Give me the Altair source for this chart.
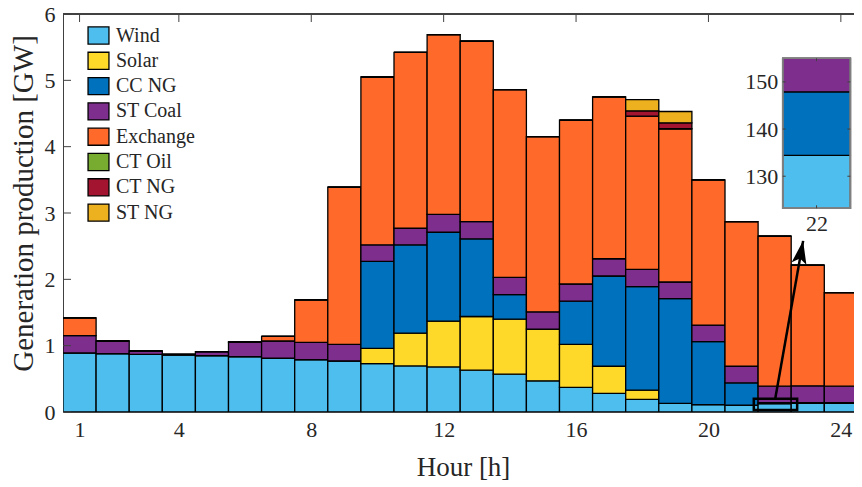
import altair as alt
import pandas as pd

# ---------------- data ----------------
hours = list(range(1, 25))
series = ["Wind", "Solar", "CC NG", "ST Coal", "Exchange", "CT Oil", "CT NG", "ST NG"]
colors = ["#4DBEEE", "#FFD92A", "#0072BD", "#7E2F8E", "#FF6A2A", "#77AC30", "#A2142F", "#EDB120"]

wind     = [0.89, 0.88, 0.87, 0.86, 0.85, 0.835, 0.81, 0.79, 0.77, 0.73, 0.695, 0.68,
            0.63, 0.57, 0.47, 0.37, 0.28, 0.19, 0.13, 0.11, 0.105, 0.125, 0.13, 0.13]
solar    = [0, 0, 0, 0, 0, 0, 0, 0, 0, 0.23, 0.495, 0.69,
            0.81, 0.83, 0.78, 0.65, 0.41, 0.14, 0, 0, 0, 0, 0, 0]
cc_ng    = [0, 0, 0, 0, 0, 0, 0, 0, 0, 1.31, 1.33, 1.34,
            1.17, 0.37, 0, 0.65, 1.36, 1.56, 1.58, 0.95, 0.335, 0.015, 0.01, 0.01]
st_coal  = [0.26, 0.19, 0.05, 0.01, 0.06, 0.215, 0.26, 0.26, 0.25, 0.25, 0.25, 0.27,
            0.26, 0.26, 0.26, 0.26, 0.26, 0.26, 0.25, 0.25, 0.25, 0.25, 0.255, 0.25]
exchange = [0.27, 0, 0, 0, 0, 0.01, 0.07, 0.64, 2.37, 2.53, 2.65, 2.71,
            2.72, 2.83, 2.64, 2.47, 2.44, 2.31, 2.31, 2.19, 2.18, 2.26, 1.82, 1.41]
ct_oil   = [0] * 24
ct_ng    = [0, 0, 0, 0, 0, 0, 0, 0, 0, 0, 0, 0,
            0, 0, 0, 0, 0, 0.08, 0.09, 0, 0, 0, 0, 0]
st_ng    = [0, 0, 0, 0, 0, 0, 0, 0, 0, 0, 0, 0,
            0, 0, 0, 0, 0, 0.17, 0.17, 0, 0, 0, 0, 0]

x_ticks = [1, 4, 8, 12, 16, 20, 24]
y_ticks = [0, 1, 2, 3, 4, 5, 6]

# inset (hour 22 zoom)
inset_series = ["Wind", "CC NG", "ST Coal"]
inset_values = [134.4, 13.5, 7.1]
inset_ticks = [130, 140, 150]
inset_domain = [123.2, 155]

# annotation box and arrow (data coordinates)
box_x = [21.37, 22.68]
box_y = [0.03, 0.20]
arrow_from = [22.02, 0.207]
arrow_to = [22.86, 2.58]

# ---------------- tables ----------------
cols = [wind, solar, cc_ng, st_coal, exchange, ct_oil, ct_ng, st_ng]
rows = []
for i, h in enumerate(hours):
    base = 0.0
    for s, col in zip(series, cols):
        v = col[i]
        rows.append({"hour": h, "series": s, "x0": h - 0.5, "x1": h + 0.5,
                     "y0": base, "y1": base + v})
        base += v
df = pd.DataFrame(rows)

inset_rows = []
base = 0.0
for s, v in zip(inset_series, inset_values):
    inset_rows.append({"series": s, "hex": colors[series.index(s)], "x0": 21.5, "x1": 22.5,
                       "y0": base, "y1": base + v})
    base += v
inset_df = pd.DataFrame(inset_rows)

W, H = 791, 398
PXH = 33.1
FONT = "Liberation Serif"
TXT = "#262626"
AX = "#404040"

xscale = alt.Scale(domain=[0.5, 0.5 + W / PXH], nice=False, zero=False)
yscale = alt.Scale(domain=[0, 6], nice=False, zero=False)

bars = alt.Chart(df).mark_rect(stroke="black", strokeWidth=1.3, clip=True).encode(
    x=alt.X("x0:Q", scale=xscale,
            axis=alt.Axis(values=x_ticks, format="d", ticks=False, tickSize=0, grid=False,
                          domainColor=AX, labelFont=FONT, labelFontSize=22, labelColor=TXT,
                          labelPadding=7,
                          title="Hour [h]", titleFont=FONT, titleFontSize=27, titleColor=TXT,
                          titleFontWeight="normal", titleX=400, titleY=63,
                          titleBaseline="alphabetic")),
    x2="x1:Q",
    y=alt.Y("y0:Q", scale=yscale,
            axis=alt.Axis(values=y_ticks, format="d", ticks=False, tickSize=0, grid=False,
                          domainColor=AX, labelFont=FONT, labelFontSize=22, labelColor=TXT,
                          labelPadding=8,
                          title="Generation production [GW]", titleFont=FONT, titleFontSize=29,
                          titleColor=TXT, titleFontWeight="normal", titleX=-31, titleY=189,
                          titleBaseline="alphabetic", titleAngle=270)),
    y2="y1:Q",
    color=alt.Color("series:N", scale=alt.Scale(domain=series, range=colors),
                    legend=alt.Legend(title=None, orient="none", legendX=25, legendY=11,
                                      symbolType="M-1.1,-0.9H1.1V0.9H-1.1Z", symbolSize=361,
                                      symbolStrokeColor="black", symbolStrokeWidth=1.3,
                                      symbolOpacity=1, labelFont=FONT, labelFontSize=20,
                                      labelColor=TXT, rowPadding=2.3, labelOffset=7, padding=0)),
)

box_df = pd.DataFrame({"bx0": [box_x[0]], "bx1": [box_x[1]], "by0": [box_y[0]], "by1": [box_y[1]]})
box = alt.Chart(box_df).mark_rect(fill=None, stroke="black", strokeWidth=2.5).encode(
    x="bx0:Q", x2="bx1:Q", y="by0:Q", y2="by1:Q")

arrow_df = pd.DataFrame({"ax0": [arrow_from[0]], "ay0": [arrow_from[1]],
                         "ax1": [arrow_to[0]], "ay1": [arrow_to[1]]})
arrow_line = alt.Chart(arrow_df).mark_rule(color="black", strokeWidth=2.5).encode(
    x="ax0:Q", y="ay0:Q", x2="ax1:Q", y2="ay1:Q")
arrow_head = alt.Chart(arrow_df).mark_point(
    shape="M0,0L0.65,2L0,1.55L-0.65,2Z", size=529, angle=10.2, filled=True,
    color="black", opacity=1, strokeWidth=0).encode(x="ax1:Q", y="ay1:Q")

xt_df = pd.DataFrame({"t": x_ticks})
yt_df = pd.DataFrame({"v": y_ticks})
top_line = alt.Chart(xt_df).mark_rule(color=AX, strokeWidth=1).encode(
    x=alt.value(0), x2=alt.value(W), y=alt.value(0))
top_ticks = alt.Chart(xt_df).mark_rule(color=AX, strokeWidth=1).encode(
    x="t:Q", y=alt.value(0), y2=alt.value(8))
left_ticks = alt.Chart(yt_df).mark_rule(color=AX, strokeWidth=1).encode(
    y="v:Q", x=alt.value(0), x2=alt.value(8))

main = alt.layer(bars, box, arrow_line, arrow_head, top_line, top_ticks, left_ticks)

# ---------------- inset ----------------
IX = [719.7, 787.4]
IY = [194.3, 44.3]
ixscale = alt.Scale(domain=[21.5, 22.5], range=IX, nice=False, zero=False)
iyscale = alt.Scale(domain=inset_domain, range=IY, nice=False, zero=False, clamp=True)

inset_bars = alt.Chart(inset_df).mark_rect(stroke="black", strokeWidth=1.3).encode(
    x=alt.X("x0:Q", scale=ixscale,
            axis=alt.Axis(values=[22], format="d", orient="bottom", offset=-(H - IY[0]),
                          ticks=False, tickSize=0, domain=False, grid=False, labelFont=FONT,
                          labelFontSize=22, labelColor=TXT, labelPadding=5, title=None)),
    x2="x1:Q",
    y=alt.Y("y0:Q", scale=iyscale,
            axis=alt.Axis(values=inset_ticks, format="d", orient="left", offset=-IX[0],
                          ticks=False, tickSize=0, domain=False, grid=False, labelFont=FONT,
                          labelFontSize=22, labelColor=TXT, labelPadding=5, title=None)),
    y2="y1:Q",
    color=alt.Color("hex:N", scale=None),
)
inset_frame = alt.Chart(inset_df).mark_rect(fill=None, stroke="#808080", strokeWidth=1.5).encode(
    x=alt.datum(21.5), x2=alt.datum(22.5), y=alt.datum(inset_domain[0]), y2=alt.datum(inset_domain[1]))

it_df = pd.DataFrame({"v": inset_ticks})
ix_df = pd.DataFrame({"t": [22]})
inset_lt = alt.Chart(it_df).mark_rule(color="#404040", strokeWidth=1).encode(
    y="v:Q", x=alt.value(IX[0]), x2=alt.value(IX[0] + 3))
inset_rt = alt.Chart(it_df).mark_rule(color="#404040", strokeWidth=1).encode(
    y="v:Q", x=alt.value(IX[1] - 3), x2=alt.value(IX[1]))
inset_tt = alt.Chart(ix_df).mark_rule(color="#404040", strokeWidth=1).encode(
    x="t:Q", y=alt.value(IY[1]), y2=alt.value(IY[1] + 3))
inset_bt = alt.Chart(ix_df).mark_rule(color="#404040", strokeWidth=1).encode(
    x="t:Q", y=alt.value(IY[0] - 3), y2=alt.value(IY[0]))

inset = alt.layer(inset_bars, inset_frame, inset_lt, inset_rt, inset_tt, inset_bt)

chart = alt.layer(main, inset).resolve_scale(x="independent", y="independent").properties(
    width=W, height=H,
    padding={"left": 55, "top": 6, "right": 0, "bottom": 70},
    autosize=alt.AutoSizeParams(type="none"),
).configure_view(stroke=None)

chart.save("out.html", embed_options={"renderer": "svg", "actions": False})
